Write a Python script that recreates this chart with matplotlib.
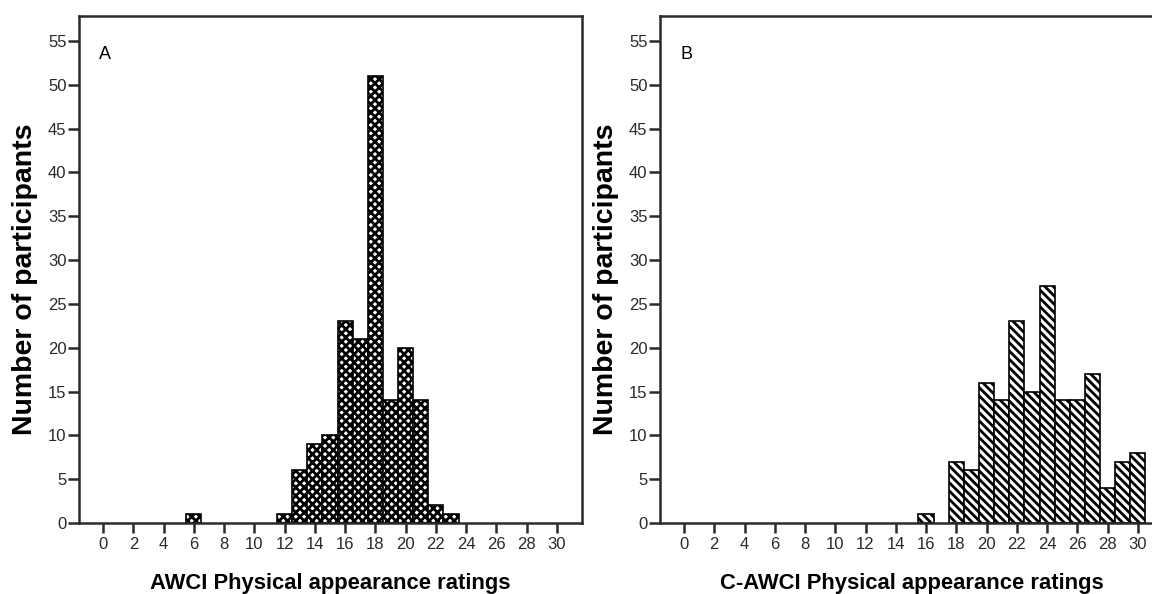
import matplotlib
matplotlib.use('Agg')
import matplotlib.pyplot as plt

plt.rcParams['font.family'] = ['Liberation Sans', 'DejaVu Sans']
plt.rcParams['hatch.linewidth'] = 2.0
plt.rcParams['hatch.color'] = 'black'

# AWCI ratings (panel A)
awci_scores = [6, 12, 13, 14, 15, 16, 17, 18, 19, 20, 21, 22, 23]
awci_counts = [1, 1, 6, 9, 10, 23, 21, 51, 14, 20, 14, 2, 1]

# C-AWCI ratings (panel B)
cawci_scores = [16, 18, 19, 20, 21, 22, 23, 24, 25, 26, 27, 28, 29, 30]
cawci_counts = [1, 7, 6, 16, 14, 23, 15, 27, 14, 14, 17, 4, 7, 8]

x_ticks = list(range(0, 31, 2))
y_ticks = list(range(0, 56, 5))

fig = plt.figure(figsize=(11.52, 5.94), dpi=100)
ax1 = fig.add_axes([0.0686, 0.1195, 0.4366, 0.8535])
ax2 = fig.add_axes([0.5729, 0.1195, 0.4366, 0.8535])

panels = [
    (ax1, awci_scores, awci_counts, 'xxxx', 'A', 'AWCI Physical appearance ratings'),
    (ax2, cawci_scores, cawci_counts, '\\\\\\\\', 'B', 'C-AWCI Physical appearance ratings'),
]

for ax, scores, counts, hatch, letter, xlabel in panels:
    ax.bar(scores, counts, width=1.0, color='white', edgecolor='black',
           linewidth=1.2, hatch=hatch, zorder=2)
    ax.set_xlim(-1.59, 31.66)
    ax.set_ylim(0, 57.85)
    ax.set_xticks(x_ticks)
    ax.set_yticks(y_ticks)
    ax.tick_params(axis='x', direction='out', length=7, width=1.8,
                   labelsize=12, colors='#2a2a2a', pad=3)
    ax.tick_params(axis='y', direction='out', length=8, width=1.8,
                   labelsize=12, colors='#2a2a2a', pad=1)
    for side in ax.spines.values():
        side.set_linewidth(1.8)
        side.set_color('#2a2a2a')
    ax.text(-0.25, 53.5, letter, fontsize=13, ha='left', va='center')
    ax.set_xlabel(xlabel, fontsize=15.8, fontweight='bold', labelpad=15)
    ax.set_ylabel('Number of participants', fontsize=20.5, fontweight='bold')
    ax.yaxis.set_label_coords(-0.082, 0.48)

fig.savefig('out.png', dpi=100)
